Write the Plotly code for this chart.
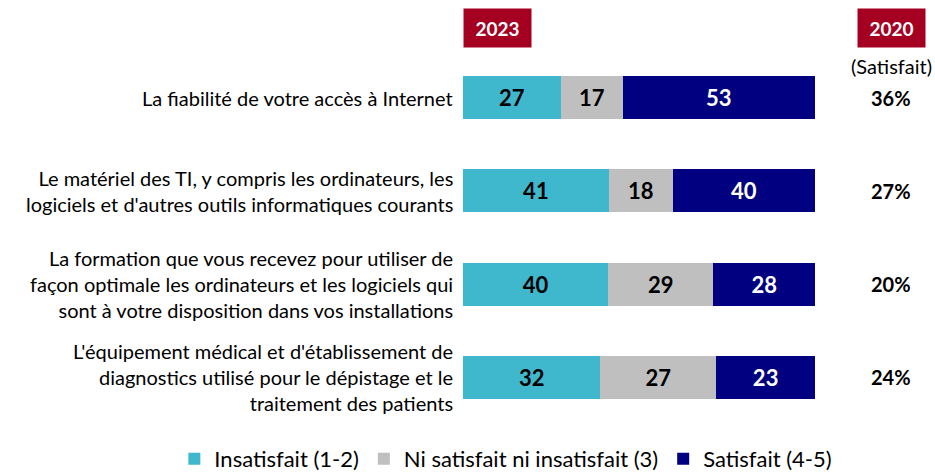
import plotly.graph_objects as go

categories = [
    "La fiabilité de votre accès à Internet",
    "Le matériel des TI, y compris les ordinateurs, les<br>logiciels et d'autres outils informatiques courants",
    "La formation que vous recevez pour utiliser de<br>façon optimale les ordinateurs et les logiciels qui<br>sont à votre disposition dans vos installations",
    "L'équipement médical et d'établissement de<br>diagnostics utilisé pour le dépistage et le<br>traitement des patients",
]
insatisfait = [27, 41, 40, 32]
neutre = [17, 18, 29, 27]
satisfait = [53, 40, 28, 23]
satisfait_2020 = ["36%", "27%", "20%", "24%"]
series_names = ["Insatisfait (1-2)", "Ni satisfait ni insatisfait (3)", "Satisfait (4-5)"]
colors = ["#3FB8CE", "#BFBFBF", "#000080"]
text_colors = ["#000000", "#000000", "#FFFFFF"]

FONT = "Lato"
ids = list(range(len(categories)))

fig = go.Figure()
for name, vals, col, tcol in zip(series_names, [insatisfait, neutre, satisfait], colors, text_colors):
    fig.add_trace(go.Bar(
        y=ids, x=vals, name=name, orientation="h",
        marker=dict(color=col, line=dict(width=0)),
        text=[str(v) for v in vals], textposition="inside", insidetextanchor="middle",
        textfont=dict(family=FONT, size=22, color=tcol, weight="bold"),
        cliponaxis=False, hoverinfo="skip",
    ))

annotations = []
for i, cat in enumerate(categories):
    annotations.append(dict(
        x=0, xref="paper", y=i, yref="y", text=cat, showarrow=False,
        xanchor="right", yanchor="middle", align="right", xshift=-8,
        font=dict(family=FONT, size=20, color="#000000"),
    ))
    annotations.append(dict(
        x=1, xref="paper", y=i, yref="y", text="<b>" + satisfait_2020[i] + "</b>",
        showarrow=False, xanchor="center", yanchor="middle", xshift=76,
        font=dict(family=FONT, size=20, color="#000000"),
    ))

annotations.append(dict(
    x=0, xref="paper", y=1, yref="paper", text="<b>2023</b>", showarrow=False,
    xanchor="left", yanchor="bottom", yshift=3,
    bgcolor="#A50021", width=65, height=36,
    font=dict(family=FONT, size=19, color="#FFFFFF"),
))
annotations.append(dict(
    x=1, xref="paper", y=1, yref="paper", text="<b>2020</b>", showarrow=False,
    xanchor="center", yanchor="bottom", xshift=76, yshift=3,
    bgcolor="#A50021", width=65, height=36,
    font=dict(family=FONT, size=19, color="#FFFFFF"),
))
annotations.append(dict(
    x=1, xref="paper", y=0, yref="y", text="(Satisfait)", showarrow=False,
    xanchor="center", yanchor="bottom", xshift=76, yshift=18,
    font=dict(family=FONT, size=20, color="#000000"),
))

fig.update_layout(
    width=935, height=473,
    margin=dict(l=463, r=120, t=51, b=49, autoexpand=False),
    barmode="stack", barnorm="percent", bargap=0.54,
    plot_bgcolor="#FFFFFF", paper_bgcolor="#FFFFFF",
    font=dict(family=FONT, size=17, color="#000000"),
    xaxis=dict(range=[0, 100], visible=False, fixedrange=True),
    yaxis=dict(range=[3.5, -0.5], visible=False, fixedrange=True),
    showlegend=True,
    legend=dict(orientation="h", x=-0.82, xref="paper", xanchor="left",
                y=-0.094, yref="paper", yanchor="middle",
                font=dict(family=FONT, size=22), itemwidth=30, tracegroupgap=0,
                traceorder="normal", bgcolor="rgba(0,0,0,0)"),
    annotations=annotations,
)

fig.write_html("out.html", config={"displayModeBar": False},
               post_script="document.body.style.margin='0';document.body.style.overflow='hidden';")
